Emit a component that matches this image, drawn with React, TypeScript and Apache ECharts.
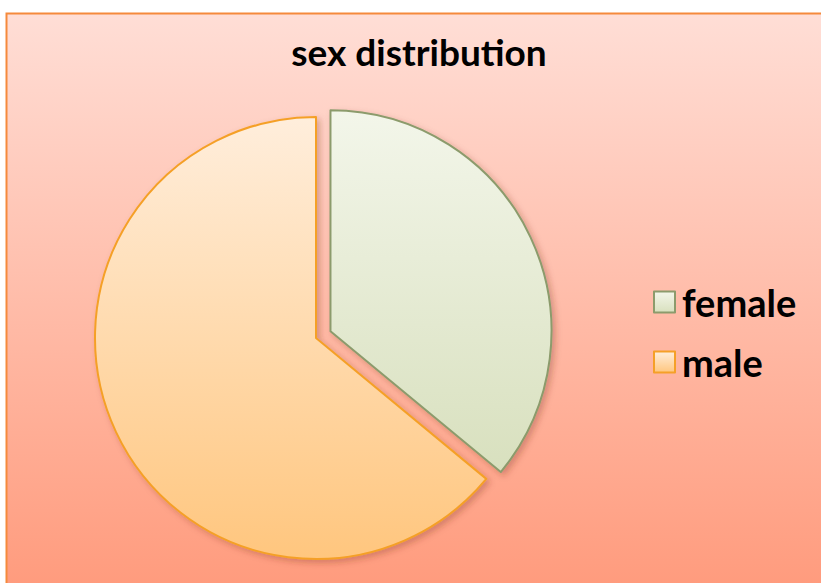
import React, { useEffect, useRef } from "react";
import * as echarts from "echarts";

const categories = ["female", "male"];
const values = [36, 64];
const titleText = "sex distribution";

export default function App() {
  const ref = useRef<HTMLDivElement>(null);
  useEffect(() => {
    document.body.style.margin = "0";
    const chart = echarts.init(ref.current!, null, { renderer: "svg" });
    const fills = [
      { top: "#F3F6EA", bottom: "#D8E0BE", border: "#8C9B6C" },
      { top: "#FFEEDC", bottom: "#FFC67E", border: "#F5A028" },
    ];
    chart.setOption({
      animation: false,
      backgroundColor: "#ffffff",
      graphic: [
        {
          type: "rect",
          z: -10,
          silent: true,
          shape: { x: 6.5, y: 13.5, width: 830, height: 600 },
          style: {
            fill: new echarts.graphic.LinearGradient(0, 0, 0, 1, [
              { offset: 0, color: "#FFDED6" },
              { offset: 1, color: "#FF9879" },
            ]),
            stroke: "#F58A3C",
            lineWidth: 2,
          },
        },
      ],
      title: {
        text: titleText,
        left: 414,
        textAlign: "center",
        top: 28,
        textStyle: {
          fontFamily: "Lato",
          fontWeight: "bold",
          fontSize: 37,
          color: "#000",
        },
      },
      legend: {
        orient: "vertical",
        left: 653,
        top: 283,
        padding: 0,
        itemWidth: 21,
        itemHeight: 21,
        itemGap: 22,
        icon: "rect",
        selectedMode: false,
        data: categories,
        textStyle: {
          fontFamily: "Lato",
          fontWeight: "bold",
          fontSize: 38,
          lineHeight: 21,
          color: "#000",
          padding: [0, 0, 0, 2],
        },
      },
      series: [
        {
          type: "pie",
          center: [316, 338],
          radius: 221,
          startAngle: 90,
          clockwise: true,
          selectedMode: "single",
          selectedOffset: 16,
          label: { show: false },
          labelLine: { show: false },
          emphasis: { disabled: true },
          data: categories.map((name, i) => ({
            name,
            value: values[i],
            selected: i === 0,
            itemStyle: {
              color: new echarts.graphic.LinearGradient(0, 0, 0, 1, [
                { offset: 0, color: fills[i].top },
                { offset: 1, color: fills[i].bottom },
              ]),
              borderColor: fills[i].border,
              borderWidth: 2,
              shadowBlur: 6,
              shadowOffsetX: 3,
              shadowOffsetY: 3,
              shadowColor: "rgba(120,40,20,0.3)",
            },
          })),
        },
      ],
    });
    return () => chart.dispose();
  }, []);
  return <div ref={ref} style={{ width: 821, height: 583 }} />;
}
